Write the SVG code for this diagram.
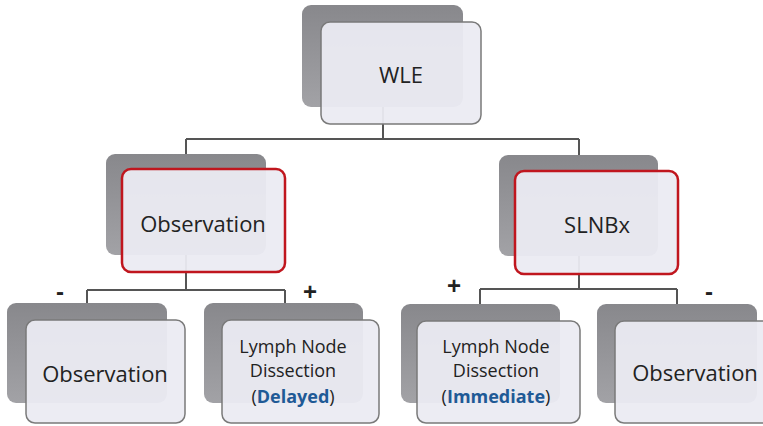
<svg xmlns="http://www.w3.org/2000/svg" width="763" height="426" viewBox="0 0 763 426">
<defs>
<linearGradient id="gb" x1="0" y1="0" x2="0" y2="1">
<stop offset="0" stop-color="#88888c"/>
<stop offset="1" stop-color="#a2a2a6"/>
</linearGradient>
</defs>
<style>
.back{fill:url(#gb);}
.front{fill:#ebebf2;fill-opacity:0.95;stroke:#7a7a7a;stroke-width:1.5;}
.sel{fill:#ebebf2;fill-opacity:0.95;stroke:#c0161e;stroke-width:2.5;}
.conn{fill:none;stroke:#555;stroke-width:2;}
.t{font-family:"Open Sans","Liberation Sans",sans-serif;fill:#222;text-anchor:middle;}
.big{font-size:22px;}
.sm{font-size:18px;}
.blue{fill:#1f5a96;font-weight:bold;}
.sign{font-family:"Liberation Sans",sans-serif;font-size:24px;font-weight:bold;fill:#222;text-anchor:middle;}
</style>
<rect width="763" height="426" fill="#ffffff"/>
<g id="connectors">
<path class="conn" d="M383 107V139M186 139H579M186 139V155M579 139V155"/>
<path class="conn" d="M186 255V290M87 290H285M87 290V304M285 290V304"/>
<path class="conn" d="M579 256V289M480 289H677M480 289V305M677 289V305"/>
</g>
<g id="wle">
<rect class="back" x="302" y="5" width="161" height="102" rx="9"/>
<rect class="front" x="321" y="22" width="160" height="102" rx="9"/>
<text class="t big" x="401" y="83">WLE</text>
</g>
<g id="observation-mid">
<rect class="back" x="106" y="154" width="160" height="101" rx="9"/>
<rect class="sel" x="122" y="169" width="163" height="103" rx="9"/>
<text class="t big" x="203" y="232">Observation</text>
</g>
<g id="slnbx">
<rect class="back" x="499" y="155" width="159" height="101" rx="9"/>
<rect class="sel" x="515" y="171" width="163" height="103" rx="9"/>
<text class="t big" x="597" y="233">SLNBx</text>
</g>
<g id="observation-left">
<rect class="back" x="7" y="303" width="160" height="100" rx="9"/>
<rect class="front" x="26" y="320" width="159" height="103" rx="9"/>
<text class="t big" x="105" y="382">Observation</text>
</g>
<g id="lnd-delayed">
<rect class="back" x="204" y="303" width="159" height="100" rx="9"/>
<rect class="front" x="222" y="320" width="157" height="103" rx="9"/>
<text class="t sm" x="293" y="353">Lymph Node</text>
<text class="t sm" x="293" y="377">Dissection</text>
<text class="t sm" x="293" y="403">(<tspan class="blue">Delayed</tspan>)</text>
</g>
<g id="lnd-immediate">
<rect class="back" x="401" y="304" width="159" height="99" rx="9"/>
<rect class="front" x="417" y="321" width="163" height="102" rx="9"/>
<text class="t sm" x="496" y="353">Lymph Node</text>
<text class="t sm" x="496" y="377">Dissection</text>
<text class="t sm" x="496" y="403">(<tspan class="blue">Immediate</tspan>)</text>
</g>
<g id="observation-right">
<rect class="back" x="597" y="304" width="160" height="99" rx="9"/>
<rect class="front" x="615" y="321" width="160" height="102" rx="9"/>
<text class="t big" x="695" y="381">Observation</text>
</g>
<g id="labels">
<text class="sign" x="60" y="300">-</text>
<text class="sign" x="310" y="300">+</text>
<text class="sign" x="454" y="294">+</text>
<text class="sign" x="709" y="300">-</text>
</g>
</svg>
